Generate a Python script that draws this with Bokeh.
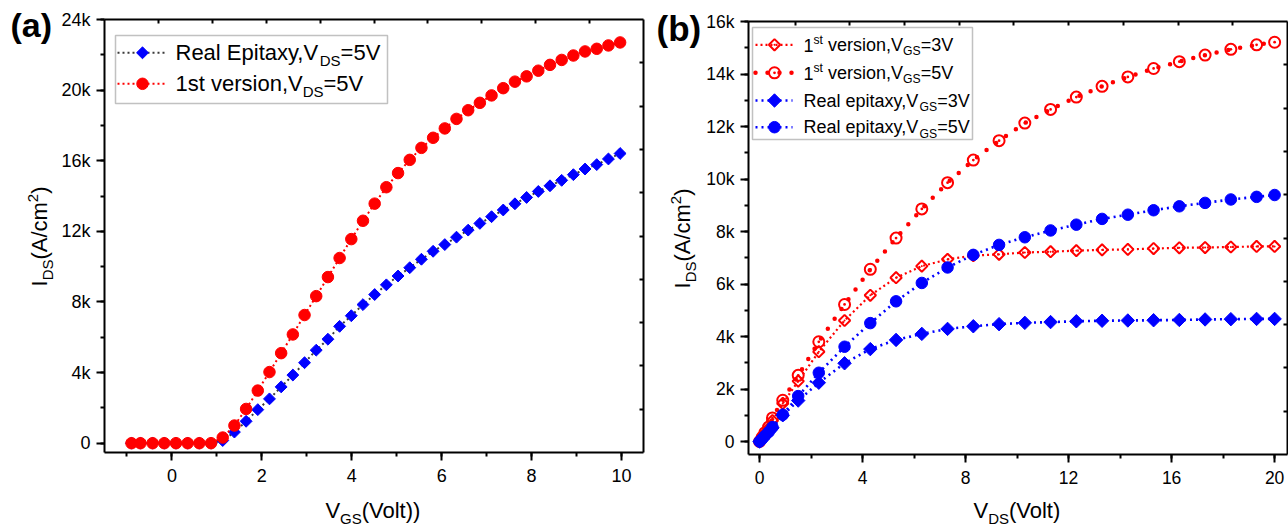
import math
from bokeh.plotting import figure
from bokeh.layouts import row
from bokeh.models import (Range1d, LinearAxis, SingleIntervalTicker, FixedTicker,
                          NumeralTickFormatter, Label, BoxAnnotation)
from bokeh.embed import file_html
from bokeh.resources import INLINE

FONT = "Liberation Sans"
H = 527
LIFT = 0.35   # empirical correction of the label anchor (fraction of font size)

# ---------------- Panel (a): transfer curves, V_DS = 5 V ----------------
vgs = [-0.9, -0.7, -0.43, -0.17, 0.09, 0.35, 0.61, 0.87, 1.13, 1.39, 1.65, 1.91,
       2.17, 2.43, 2.69, 2.95, 3.21, 3.47, 3.73, 3.99, 4.25, 4.51, 4.77, 5.03,
       5.29, 5.55, 5.81, 6.07, 6.33, 6.59, 6.85, 7.11, 7.37, 7.63, 7.89, 8.15,
       8.41, 8.67, 8.93, 9.19, 9.45, 9.71, 9.97]
ids_real_a = [0, 0, 0, 0, 0, 0, 0, 0, 150, 630, 1240, 1900, 2510, 3190, 3860,
              4560, 5270, 5890, 6620, 7220, 7850, 8420, 8970, 9470, 9940, 10420,
              10870, 11250, 11670, 12070, 12450, 12830, 13210, 13560, 13920,
              14260, 14580, 14890, 15210, 15530, 15780, 16100, 16410]
ids_first_a = [0, 0, 0, 0, 0, 0, 0, 0, 320, 1000, 1940, 2980, 4030, 5100, 6160,
               7260, 8330, 9410, 10490, 11560, 12600, 13570, 14500, 15300, 16050,
               16730, 17300, 17830, 18370, 18860, 19280, 19700, 20110, 20480,
               20780, 21100, 21430, 21710, 21960, 22190, 22340, 22530, 22700]

# ---------------- Panel (b): output curves ----------------
vds = [0, 0.1, 0.2, 0.35, 0.5, 0.9, 1.5, 2.3, 3.3, 4.3, 5.3, 6.3, 7.3, 8.3, 9.3,
       10.3, 11.3, 12.3, 13.3, 14.3, 15.3, 16.3, 17.3, 18.3, 19.3, 20.0]
first_vgs3 = [0, 150, 300, 500, 800, 1450, 2300, 3420, 4610, 5570, 6240, 6680,
              6940, 7080, 7130, 7200, 7230, 7270, 7300, 7320, 7350, 7380, 7390,
              7410, 7430, 7430]
first_vgs5 = [0, 160, 330, 550, 900, 1570, 2520, 3800, 5220, 6560, 7750, 8860,
              9860, 10720, 11460, 12130, 12650, 13120, 13530, 13890, 14210, 14470,
              14720, 14940, 15110, 15210]
real_vgs3 = [0, 100, 200, 350, 520, 1000, 1560, 2240, 2980, 3520, 3870, 4100,
             4290, 4390, 4470, 4520, 4550, 4580, 4600, 4610, 4620, 4630, 4650,
             4660, 4670, 4670]
real_vgs5 = [0, 100, 210, 360, 550, 1020, 1730, 2620, 3610, 4510, 5340, 6040,
             6630, 7110, 7490, 7780, 8040, 8260, 8480, 8640, 8810, 8960, 9090,
             9220, 9320, 9390]

# legend / title texts: (text, kind) with kind n = normal, sub, sup
legend_a = [
    [("Real Epitaxy,V", "n"), ("DS", "sub"), ("=5V", "n")],
    [("1st version,V", "n"), ("DS", "sub"), ("=5V", "n")],
]
legend_b = [
    [("1", "n"), ("st", "sup"), (" version,V", "n"), ("GS", "sub"), ("=3V", "n")],
    [("1", "n"), ("st", "sup"), (" version,V", "n"), ("GS", "sub"), ("=5V", "n")],
    [("Real epitaxy,V", "n"), ("GS", "sub"), ("=3V", "n")],
    [("Real epitaxy,V", "n"), ("GS", "sub"), ("=5V", "n")],
]
ytitle = [("I", "n"), ("DS", "sub"), ("(A/cm", "n"), ("2", "sup"), (")", "n")]
xtitle_a = [("V", "n"), ("GS", "sub"), ("(Volt))", "n")]
xtitle_b = [("V", "n"), ("DS", "sub"), ("(Volt)", "n")]

# Arial / Liberation Sans advance widths (per 1000 em)
CW = {' ': 278, '(': 333, ')': 333, ',': 278, '.': 278, '/': 278, '=': 584,
      'A': 667, 'D': 722, 'E': 667, 'G': 778, 'I': 278, 'R': 722, 'S': 667,
      'V': 667, 'a': 556, 'c': 500, 'e': 556, 'i': 222, 'l': 222, 'm': 833,
      'n': 556, 'o': 556, 'p': 556, 'r': 333, 's': 500, 't': 278, 'v': 500,
      'x': 500, 'y': 500}
SUB = 0.68


def text_w(s, fs):
    return sum(CW.get(c, 556) for c in s) / 1000.0 * fs


def rich(p, pieces, X, Y, fs, angle=0.0, center=False):
    """Rich text with its baseline anchor at local canvas pixel (X, Y from top)."""
    ax, ay = X, H - Y
    dx, dy = math.cos(angle), math.sin(angle)
    ux, uy = -math.sin(angle), math.cos(angle)
    sizes = [fs * (SUB if k != "n" else 1.0) for _, k in pieces]
    total = sum(text_w(t, s) for (t, _), s in zip(pieces, sizes))
    off = -total / 2 if center else 0.0
    for (t, k), s in zip(pieces, sizes):
        shift = {"n": 0.0, "sub": -0.23 * fs, "sup": 0.40 * fs}[k] + LIFT * s
        lead = len(t) - len(t.lstrip(" "))
        off += text_w(" " * lead, s)
        core = t.strip(" ")
        p.add_layout(Label(x=ax + off * dx + shift * ux, y=ay + off * dy + shift * uy,
                           x_units="screen", y_units="screen", text=core, angle=angle,
                           text_font=FONT, text_font_size=f"{s:.1f}px",
                           text_baseline="alphabetic", text_align="left",
                           text_color="black"))
        off += text_w(t.lstrip(" "), s)


def full_range(lo, hi, a0, a1, total):
    k = (hi - lo) / (a1 - a0)
    return (lo - a0 * k, hi + (total - a1) * k)


def make_panel(w, area, xr, yr, xint, yint, fs, top_r, right_r, top_ticks, right_ticks):
    l, r, t, b = area
    fx = full_range(xr[0], xr[1], l, r, w)
    fy = full_range(yr[0], yr[1], H - b, H - t, H)
    p = figure(width=w, height=H, x_range=Range1d(*fx), y_range=Range1d(*fy),
               title=None, output_backend="svg", toolbar_location=None,
               min_border=0, background_fill_color="white",
               border_fill_color="white")
    p.outline_line_color = None
    p.grid.visible = False
    p.extra_x_ranges = {"top": Range1d(*full_range(top_r[0], top_r[1], l, r, w))}
    p.extra_y_ranges = {"right": Range1d(*full_range(right_r[0], right_r[1], H - b, H - t, H))}
    xa, ya = p.xaxis[0], p.yaxis[0]
    xa.fixed_location = yr[0]
    xa.bounds = xr
    ya.fixed_location = xr[0]
    ya.bounds = yr
    xa.ticker = SingleIntervalTicker(interval=xint, num_minor_ticks=2)
    ya.ticker = SingleIntervalTicker(interval=yint, num_minor_ticks=2)
    ya.formatter = NumeralTickFormatter(format="0a")
    for ax in (xa, ya):
        ax.axis_line_width = 2
        ax.axis_line_color = "black"
        ax.major_tick_in = 0
        ax.major_tick_out = 8
        ax.minor_tick_in = 0
        ax.minor_tick_out = 4
        ax.major_tick_line_width = 2
        ax.minor_tick_line_width = 2
        ax.major_label_text_font = FONT
        ax.major_label_text_font_size = fs
        ax.major_label_text_color = "black"
    xa.major_label_standoff = 8
    ya.major_label_standoff = 6
    common = dict(major_tick_in=4, major_tick_out=0, minor_tick_in=0, minor_tick_out=0,
                  minor_tick_line_color=None, major_label_text_color=None,
                  axis_line_width=2, axis_line_color="black", major_tick_line_width=2)
    top = LinearAxis(x_range_name="top", fixed_location=yr[1], bounds=top_r,
                     ticker=FixedTicker(ticks=top_ticks), **common)
    right = LinearAxis(y_range_name="right", fixed_location=xr[1], bounds=right_r,
                       ticker=FixedTicker(ticks=right_ticks), **common)
    p.add_layout(top, "above")
    p.add_layout(right, "right")
    return p, (fx, fy, w)


def to_data(full, X, Y):
    fx, fy, w = full
    return (fx[0] + X / w * (fx[1] - fx[0]), fy[0] + (H - Y) / H * (fy[1] - fy[0]))


def legend_box(p, l, r, t, b):
    p.add_layout(BoxAnnotation(left=l, right=r, top=H - t, bottom=H - b,
                               left_units="screen", right_units="screen",
                               top_units="screen", bottom_units="screen",
                               fill_alpha=0, line_color="#333333", line_width=1.5))


def panel_letter(p, text, X, Y, fs):
    p.add_layout(Label(x=X, y=H - Y + LIFT * fs, x_units="screen", y_units="screen",
                       text=text, text_font=FONT, text_font_size=f"{fs}px",
                       text_font_style="bold", text_baseline="alphabetic",
                       text_color="black"))


# ======================= figure (a) =======================  (local px = page px)
XR_A, YR_A = (-1.5, 10.49), (-527, 24000)
pa, full_a = make_panel(645, (104, 643, 19, 452), XR_A, YR_A, 2, 4000, "18px",
                        (-1, 9), (0, 10), list(range(0, 9)), list(range(1, 10)))

pa.line(vgs, ids_real_a, line_color="#3a3a3a", line_width=2, line_dash="2 3")
pa.scatter(vgs, ids_real_a, marker="square", angle=math.pi / 4, size=8.4,
           fill_color="#0000ff", line_color="#0000ff")
pa.line(vgs, ids_first_a, line_color="#ff0000", line_width=2, line_dash="2 3")
pa.scatter(vgs, ids_first_a, marker="circle", size=11.5,
           fill_color="#ff0000", line_color="#ff0000")

panel_letter(pa, "(a)", 10, 36, 34)
rich(pa, ytitle, 47, 236, 22, angle=math.pi / 2, center=True)
rich(pa, xtitle_a, 373, 518, 22, center=True)

legend_box(pa, 115, 387, 35, 103)
styles_a = [
    dict(lc="#3a3a3a", marker="square", angle=math.pi / 4, size=8.4, c="#0000ff"),
    dict(lc="#ff0000", marker="circle", angle=0, size=11.5, c="#ff0000"),
]
for yc, pieces, st in zip([52.3, 83.3], legend_a, styles_a):
    x0, y0 = to_data(full_a, 117, yc)
    x1, _ = to_data(full_a, 167, yc)
    xm, _ = to_data(full_a, 142, yc)
    pa.line([x0, x1], [y0, y0], line_color=st["lc"], line_width=2, line_dash="2 3")
    pa.scatter([xm], [y0], marker=st["marker"], angle=st["angle"], size=st["size"],
               fill_color=st["c"], line_color=st["c"])
    rich(pa, pieces, 175, yc + 7.8, 22)

# ======================= figure (b) =======================  (local px = page px - 645)
OX = 645
XR_B, YR_B = (-0.43, 20.5), (-495, 16000)
pb, full_b = make_panel(643, (748 - OX, 1287 - OX, 21, 454), XR_B, YR_B, 4, 2000, "17.5px",
                        (0.15, 10), (0, 10), list(range(1, 10)), list(range(1, 10)))

pb.line(vds, first_vgs3, line_color="#ff0000", line_width=2.2, line_dash="2 3")
pb.scatter(vds, first_vgs3, marker="square_dot", angle=math.pi / 4, size=8,
           fill_color=None, line_color="#ff0000", line_width=2)
pb.line(vds, first_vgs5, line_color="#ff0000", line_width=4.5, line_dash="0 12",
        line_cap="round")
pb.scatter(vds, first_vgs5, marker="circle_dot", size=11,
           fill_color=None, line_color="#ff0000", line_width=2)
pb.line(vds, real_vgs3, line_color="#0000ff", line_width=2.6, line_dash="2 4")
pb.scatter(vds, real_vgs3, marker="square", angle=math.pi / 4, size=9.5,
           fill_color="#0000ff", line_color="#0000ff")
pb.line(vds, real_vgs5, line_color="#0000ff", line_width=2.6, line_dash="2 4")
pb.scatter(vds, real_vgs5, marker="circle", size=11.5,
           fill_color="#0000ff", line_color="#0000ff")

panel_letter(pb, "(b)", 656 - OX, 40, 35)
rich(pb, ytitle, 690 - OX, 238, 22, angle=math.pi / 2, center=True)
rich(pb, xtitle_b, 1017 - OX, 518, 22, center=True)

legend_box(pb, 752 - OX, 972 - OX, 27, 139)
styles_b = [
    dict(lc="#ff0000", lw=2.2, dash="2 3", cap="butt", marker="square_dot",
         angle=math.pi / 4, size=8, fc=None, mc="#ff0000", mlw=2),
    dict(lc="#ff0000", lw=4.5, dash="0 12", cap="round", marker="circle_dot",
         angle=0, size=11, fc=None, mc="#ff0000", mlw=2),
    dict(lc="#0000ff", lw=2.6, dash="2 4", cap="butt", marker="square",
         angle=math.pi / 4, size=9.5, fc="#0000ff", mc="#0000ff", mlw=1),
    dict(lc="#0000ff", lw=2.6, dash="2 4", cap="butt", marker="circle",
         angle=0, size=11.5, fc="#0000ff", mc="#0000ff", mlw=1),
]
for yc, pieces, st in zip([44.3, 72.3, 100.0, 126.7], legend_b, styles_b):
    x0, y0 = to_data(full_b, 755 - OX, yc)
    x1, _ = to_data(full_b, 792 - OX, yc)
    xm, _ = to_data(full_b, 774 - OX, yc)
    pb.line([x0, x1], [y0, y0], line_color=st["lc"], line_width=st["lw"],
            line_dash=st["dash"], line_cap=st["cap"])
    pb.scatter([xm], [y0], marker=st["marker"], angle=st["angle"], size=st["size"],
               fill_color=st["fc"], line_color=st["mc"], line_width=st["mlw"])
    rich(pb, pieces, 803 - OX, yc + 6.5, 18)

layout = row(pa, pb)
open("out.html", "w").write(file_html(layout, INLINE))
